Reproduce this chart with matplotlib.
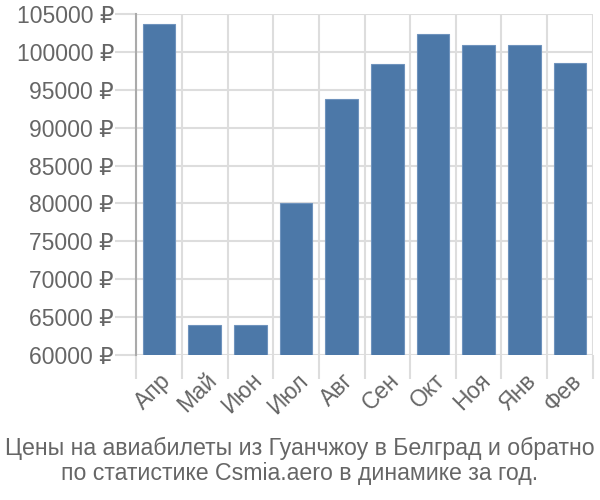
import matplotlib.pyplot as plt
import numpy as np
from matplotlib.ticker import FuncFormatter, MultipleLocator

months = ["Апр", "Май", "Июн", "Июл", "Авг", "Сен", "Окт", "Ноя", "Янв", "Фев"]
prices = [103650, 63950, 63950, 80100, 93800, 98450, 102300, 100850, 100850, 98550]

plt.rcParams["font.family"] = ["Liberation Sans", "DejaVu Sans"]

fig = plt.figure(figsize=(6, 5), dpi=100)
ax = fig.add_axes([0.227, 0.29, 0.761, 0.682])

x = np.arange(len(months))
ax.bar(x, prices, width=0.72, color="#4c78a8", edgecolor="#6f93bd", linewidth=0.8, zorder=3)

ax.set_xlim(-0.5, len(months) - 0.5)
ax.set_ylim(60000, 105000)
ax.yaxis.set_major_locator(MultipleLocator(5000))
ax.yaxis.set_major_formatter(FuncFormatter(lambda v, p: f"{int(v)} ₽"))

ax.set_xticks(x)
ax.set_xticklabels(months, rotation=45, ha="right", rotation_mode="anchor")
ax.set_xticks(np.arange(len(months) + 1) - 0.5, minor=True)

ax.tick_params(axis="x", which="major", length=0, pad=10, labelsize=16.5, labelcolor="#666666")
ax.tick_params(axis="x", which="minor", length=17, width=1.5, color="#dddddd")
ax.tick_params(axis="y", which="major", length=15, width=1.5, color="#dddddd",
               labelsize=16.5, labelcolor="#666666", pad=1)

ax.grid(axis="y", which="major", color="#dddddd", linewidth=1.5, zorder=0)
ax.grid(axis="x", which="minor", color="#dddddd", linewidth=1.5, zorder=0)

for side in ["top", "right", "bottom"]:
    ax.spines[side].set_visible(False)
ax.spines["left"].set_color("#aaaaaa")
ax.spines["left"].set_linewidth(1.5)

fig.text(0.5, 0.078, "Цены на авиабилеты из Гуанчжоу в Белград и обратно\nпо статистике Csmia.aero в динамике за год.",
         ha="center", va="center", fontsize=16.7, color="#666666", linespacing=1.15)

fig.savefig("out.png", dpi=100)
